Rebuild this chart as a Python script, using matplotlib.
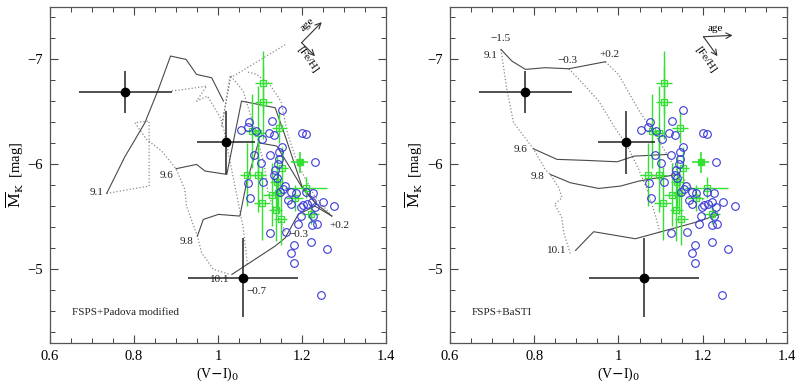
import numpy as np
import matplotlib
matplotlib.use("Agg")
import matplotlib.pyplot as plt
from matplotlib.ticker import MultipleLocator, FuncFormatter

plt.rcParams['font.family'] = ['Liberation Serif', 'DejaVu Serif']
plt.rcParams['mathtext.fontset'] = 'dejavuserif'

# -------------------------------------------
# Data
# -------------------------------------------
# black points with error bars (same in both panels)
blk_x = [0.779, 1.019, 1.060]
blk_y = [-6.69, -6.21, -4.92]
blk_xerr = [0.111, 0.068, 0.131]
blk_yerr = [0.20, 0.30, 0.375]

# blue open circles
blue_x = [1.152, 1.074, 1.071, 1.054, 1.128, 1.090, 1.104, 1.121, 1.133, 1.201,
          1.210, 1.153, 1.145, 1.086, 1.125, 1.145, 1.102, 1.144, 1.231, 1.136,
          1.134, 1.140, 1.072, 1.108, 1.076, 1.148, 1.155, 1.160, 1.175, 1.185,
          1.210, 1.227, 1.249, 1.276, 1.167, 1.175, 1.198, 1.202, 1.213, 1.223,
          1.231, 1.197, 1.227, 1.223, 1.235, 1.190, 1.162, 1.125, 1.181, 1.221,
          1.175, 1.259, 1.182, 1.245]
blue_y = [-6.52, -6.40, -6.36, -6.33, -6.41, -6.32, -6.245, -6.30, -6.28, -6.30,
          -6.29, -6.17, -6.12, -6.09, -6.09, -6.05, -6.01, -6.00, -6.02, -5.95,
          -5.90, -5.87, -5.82, -5.83, -5.68, -5.74, -5.77, -5.79, -5.74, -5.73,
          -5.74, -5.73, -5.64, -5.60, -5.66, -5.62, -5.59, -5.61, -5.62, -5.64,
          -5.59, -5.51, -5.51, -5.42, -5.43, -5.43, -5.36, -5.35, -5.23, -5.26,
          -5.16, -5.19, -5.06, -4.76]

# green squares with error bars
grn_x = [1.108, 1.108, 1.146, 1.080, 1.096, 1.070, 1.096, 1.152, 1.140,
         1.209, 1.128, 1.144, 1.105, 1.183, 1.137, 1.149, 1.221]
grn_y = [-6.78, -6.59, -6.35, -6.32, -6.30, -5.90, -5.90, -5.97, -5.83,
         -5.78, -5.71, -5.73, -5.63, -5.68, -5.57, -5.48, -5.53]
grn_xerr = [0.020, 0.020, 0.018, 0.015, 0.015, 0.018, 0.018, 0.015, 0.015,
            0.050, 0.020, 0.015, 0.020, 0.020, 0.015, 0.015, 0.020]
grn_yerr = [0.30, 0.35, 0.15, 0.35, 0.45, 0.30, 0.35, 0.20, 0.25,
            0.10, 0.30, 0.20, 0.35, 0.12, 0.30, 0.25, 0.10]
# the one filled green point
grnf_x = [1.195]
grnf_y = [-6.02]
grnf_xerr = [0.02]
grnf_yerr = [0.10]

# FSPS + Padova modified: iso-age (solid) and iso-metallicity (dotted) lines
pad_age_x = [
    [0.735, 0.779, 0.798, 0.826, 0.858, 0.887, 0.924, 0.949, 0.985, 1.013],
    [0.900, 0.949, 0.969, 1.021, 1.056, 1.136, 1.160, 1.200, 1.235, 1.271],
    [0.951, 0.965, 1.001, 1.052, 1.068, 1.096, 1.140, 1.203, 1.235],
    [1.033, 1.136, 1.160, 1.191, 1.231, 1.271],
]
pad_age_y = [
    [-5.724, -6.079, -6.206, -6.397, -6.714, -7.032, -7.000, -6.857, -6.825, -6.603],
    [-5.959, -6.000, -5.937, -5.905, -6.603, -6.540, -6.270, -5.790, -5.620, -5.508],
    [-5.317, -5.476, -5.524, -5.508, -5.826, -6.206, -6.175, -5.762, -5.620],
    [-4.952, -5.222, -5.300, -5.524, -5.603, -5.508],
]
pad_met_x = [
    [0.735, 0.836, 0.836, 0.802, 0.830, 0.866, 0.900, 0.921, 0.925, 0.951, 0.961, 0.989, 1.029],
    [0.890, 0.930, 0.973, 0.949, 0.975, 1.005, 1.013, 1.030, 1.045, 1.060, 1.070],
    [1.160, 1.030, 1.009, 1.029, 1.060, 1.090, 1.110, 1.120, 1.160],
    [1.271, 1.230, 1.190, 1.165, 1.150, 1.120, 1.090, 1.070],
]
pad_met_y = [
    [-5.724, -5.794, -6.413, -6.397, -6.238, -6.127, -5.959, -5.762, -5.603, -5.317, -5.159, -5.000, -4.952],
    [-6.700, -6.720, -6.746, -6.603, -6.650, -6.450, -6.350, -6.000, -5.700, -5.400, -5.050],
    [-7.140, -6.825, -6.365, -6.850, -6.700, -6.300, -6.000, -5.700, -5.360],
    [-5.508, -5.700, -6.000, -6.300, -6.600, -6.780, -6.860, -6.880],
]

# FSPS + BaSTI
bas_age_x = [
    [0.721, 0.747, 0.779, 0.826, 0.882, 0.969],
    [0.798, 0.854, 0.925, 0.997, 1.037, 1.116],
    [0.838, 0.886, 0.953, 1.005, 1.048, 1.140],
    [0.898, 0.941, 1.040, 1.179, 1.239],
]
bas_age_y = [
    [-7.095, -6.984, -6.905, -6.921, -6.911, -6.978],
    [-6.149, -6.048, -6.038, -6.025, -6.079, -6.095],
    [-5.905, -5.825, -5.771, -5.794, -5.841, -5.905],
    [-5.181, -5.359, -5.292, -5.444, -5.524],
]
bas_met_x = [
    [0.721, 0.735, 0.751, 0.798, 0.826, 0.838, 0.858, 0.866, 0.848, 0.865, 0.870, 0.886],
    [0.882, 0.921, 0.953, 0.989, 1.021, 1.048, 1.068, 1.085, 1.100],
    [0.969, 1.000, 1.029, 1.052, 1.084, 1.108, 1.132, 1.156, 1.190, 1.239],
]
bas_met_y = [
    [-7.095, -6.714, -6.397, -6.149, -5.952, -5.905, -5.780, -5.683, -5.620, -5.500, -5.350, -5.143],
    [-6.911, -6.746, -6.603, -6.365, -6.175, -5.952, -5.762, -5.550, -5.330],
    [-6.978, -6.857, -6.651, -6.492, -6.302, -6.143, -5.984, -5.857, -5.700, -5.524],
]

BLUE = '#3b3bd6'
GREEN = '#33e033'
SOLID = '#4a4a4a'
DOT = '#8a8a8a'


def draw_data(ax):
    ax.errorbar(grn_x, grn_y, xerr=grn_xerr, yerr=grn_yerr, fmt='s', ms=4,
                mfc='none', mec=GREEN, mew=0.9, ecolor=GREEN, elinewidth=1.0,
                capsize=0, zorder=3)
    ax.plot(grn_x, grn_y, '+', color=GREEN, ms=4, mew=0.8, zorder=3)
    ax.errorbar(grnf_x, grnf_y, xerr=grnf_xerr, yerr=grnf_yerr, fmt='s', ms=5,
                color=GREEN, ecolor=GREEN, elinewidth=1.2, capsize=0, zorder=3)
    ax.plot(blue_x, blue_y, 'o', ms=5.5, mfc='none', mec=BLUE, mew=0.8, zorder=4)
    ax.errorbar(blk_x, blk_y, xerr=blk_xerr, yerr=blk_yerr, fmt='o', ms=6,
                color='k', ecolor='#222222', elinewidth=1.1, capsize=0, zorder=5)


def style_axes(ax):
    ax.set_xlim(0.6, 1.4)
    ax.set_ylim(-4.3, -7.5)
    ax.xaxis.set_major_locator(MultipleLocator(0.2))
    ax.xaxis.set_minor_locator(MultipleLocator(0.05))
    ax.yaxis.set_major_locator(MultipleLocator(1))
    ax.yaxis.set_minor_locator(MultipleLocator(0.2))
    fmt = FuncFormatter(lambda v, p: ('%g' % round(v, 2)).replace('-', '\u2212'))
    ax.xaxis.set_major_formatter(fmt)
    ax.yaxis.set_major_formatter(fmt)
    ax.tick_params(which='both', direction='in', top=True, right=True,
                   color='#444444', labelsize=10.5)
    ax.tick_params(which='major', length=6, width=0.8, pad=5)
    ax.tick_params(which='minor', length=3.5, width=0.7)
    for s in ax.spines.values():
        s.set_color('#555555')
        s.set_linewidth(0.9)
    ax.set_xlabel(r'(V$-$I)$_0$', fontsize=10, va='center')
    ax.xaxis.set_label_coords(0.5, -0.093)
    ax.set_ylabel(r'$\overline{\rm M}_{\rm K}$  [mag]', fontsize=10.5, va='center')
    ax.yaxis.set_label_coords(-0.105, 0.5)


fig = plt.figure(figsize=(8.01, 3.84), dpi=100)
ax1 = fig.add_axes([0.0624, 0.107, 0.4195, 0.875])
ax2 = fig.add_axes([0.5618, 0.107, 0.4207, 0.875])

# ----- left panel: FSPS+Padova modified -----
for xs, ys in zip(pad_met_x, pad_met_y):
    ax1.plot(xs, ys, ':', color=DOT, lw=0.9, zorder=1)
for xs, ys in zip(pad_age_x, pad_age_y):
    ax1.plot(xs, ys, '-', color=SOLID, lw=0.8, zorder=2)
draw_data(ax1)
lab = dict(fontsize=8, color='#222222', ha='center', va='center')
ax1.text(0.711, -5.736, '9.1', **lab)
ax1.text(0.878, -5.895, '9.6', **lab)
ax1.text(0.925, -5.27, '9.8', **lab)
ax1.text(1.005, -4.905, '10.1', **lab)
ax1.text(1.092, -4.794, '\u22120.7', **lab)
ax1.text(1.191, -5.333, '\u22120.3', **lab)
ax1.text(1.288, -5.419, '+0.2', **lab)
ax1.text(0.652, -4.593, 'FSPS+Padova modified', fontsize=8, color='#222222',
         ha='left', va='center')
ax1.annotate('', xy=(1.247, -7.355), xytext=(1.199, -7.159),
             arrowprops=dict(arrowstyle='->', color='#333333', lw=0.8,
                             shrinkA=0, shrinkB=0))
ax1.annotate('', xy=(1.231, -7.031), xytext=(1.199, -7.159),
             arrowprops=dict(arrowstyle='->', color='#333333', lw=0.8,
                             shrinkA=0, shrinkB=0))
ax1.text(1.212, -7.33, 'age', fontsize=8, rotation=42, ha='center', va='center')
ax1.text(1.212, -7.0, '[Fe/H]', fontsize=8, rotation=-55, ha='center', va='center')
style_axes(ax1)

# ----- right panel: FSPS+BaSTI -----
for xs, ys in zip(bas_met_x, bas_met_y):
    ax2.plot(xs, ys, ':', color=DOT, lw=0.9, zorder=1)
for xs, ys in zip(bas_age_x, bas_age_y):
    ax2.plot(xs, ys, '-', color=SOLID, lw=0.8, zorder=2)
draw_data(ax2)
ax2.text(0.719, -7.197, '\u22121.5', **lab)
ax2.text(0.697, -7.038, '9.1', **lab)
ax2.text(0.878, -6.994, '\u22120.3', **lab)
ax2.text(0.979, -7.048, '+0.2', **lab)
ax2.text(0.767, -6.143, '9.6', **lab)
ax2.text(0.808, -5.889, '9.8', **lab)
ax2.text(0.854, -5.184, '10.1', **lab)
ax2.text(0.652, -4.593, 'FSPS+BaSTI', fontsize=8, color='#222222',
         ha='left', va='center')
ax2.annotate('', xy=(1.271, -7.229), xytext=(1.2017, -7.216),
             arrowprops=dict(arrowstyle='->', color='#333333', lw=0.8,
                             shrinkA=0, shrinkB=0))
ax2.annotate('', xy=(1.235, -7.031), xytext=(1.2017, -7.216),
             arrowprops=dict(arrowstyle='->', color='#333333', lw=0.8,
                             shrinkA=0, shrinkB=0))
ax2.text(1.231, -7.292, 'age', fontsize=8, ha='center', va='center')
ax2.text(1.207, -7.0, '[Fe/H]', fontsize=8, rotation=-55, ha='center', va='center')
style_axes(ax2)

fig.savefig('out.png', dpi=100)
